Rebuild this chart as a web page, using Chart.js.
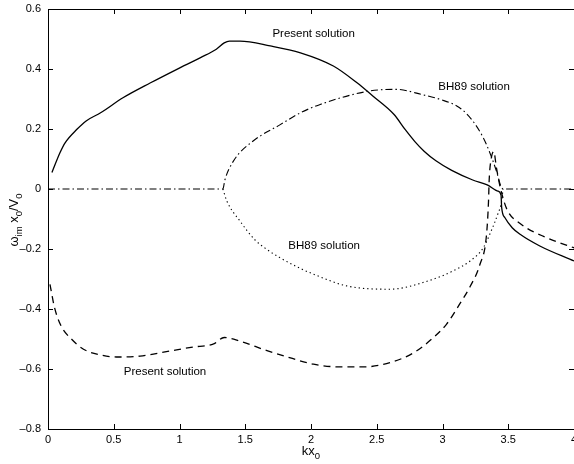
<!DOCTYPE html>
<html>
<head>
<meta charset="utf-8">
<script src="https://cdn.jsdelivr.net/npm/chart.js@4/dist/chart.umd.min.js"></script>
<style>
  html, body { margin: 0; padding: 0; background: #fff; }
  #wrap { width: 574px; height: 464px; }
</style>
</head>
<body>
<div id="wrap"><canvas id="growthChart" width="574" height="464"></canvas></div>
<script>
// values
const presentUpperX = [0.03, 0.09, 0.13, 0.22, 0.29, 0.4, 0.57, 0.78, 0.98, 1.16, 1.28, 1.34, 1.38, 1.46, 1.69, 1.92, 2.17, 2.35, 2.47, 2.63, 2.72, 2.79, 2.86, 2.95, 3.07, 3.23, 3.34, 3.42, 3.445, 3.45, 3.475, 3.53, 3.59, 3.74, 4.0];
const presentUpperY = [0.055, 0.12, 0.154, 0.199, 0.227, 0.254, 0.304, 0.354, 0.399, 0.438, 0.466, 0.487, 0.493, 0.493, 0.477, 0.454, 0.41, 0.354, 0.31, 0.249, 0.196, 0.158, 0.126, 0.094, 0.062, 0.03, 0.014, -0.007, -0.02, -0.062, -0.096, -0.129, -0.151, -0.19, -0.24];

const presentLowerX = [0.015, 0.05, 0.1, 0.18, 0.27, 0.4, 0.52, 0.7, 0.9, 1.1, 1.26, 1.34, 1.46, 1.66, 1.8, 2.02, 2.22, 2.4, 2.6, 2.78, 2.9, 3.03, 3.13, 3.21, 3.285, 3.335, 3.35, 3.355, 3.37, 3.39, 3.41, 3.44, 3.49, 3.59, 3.79, 4.0];
const presentLowerY = [-0.318, -0.396, -0.457, -0.501, -0.534, -0.553, -0.56, -0.557, -0.542, -0.527, -0.516, -0.495, -0.507, -0.538, -0.557, -0.584, -0.593, -0.593, -0.579, -0.546, -0.507, -0.451, -0.384, -0.325, -0.251, -0.151, -0.04, 0.03, 0.1, 0.125, 0.071, 0.004, -0.068, -0.115, -0.162, -0.196];

const bh89UpperX = [0, 1.33, 1.345, 1.41, 1.56, 1.76, 1.92, 2.07, 2.45, 2.65, 2.85, 2.98, 3.13, 3.23, 3.31, 3.36, 3.41, 3.45, 3.47, 4.0];
const bh89UpperY = [0, 0, 0.03, 0.093, 0.16, 0.213, 0.254, 0.282, 0.327, 0.332, 0.314, 0.299, 0.271, 0.227, 0.171, 0.121, 0.06, 0.004, 0, 0];

const bh89LowerX = [1.33, 1.36, 1.46, 1.57, 1.66, 1.76, 1.92, 2.02, 2.27, 2.6, 2.9, 3.08, 3.21, 3.31, 3.37, 3.42, 3.45, 3.46];
const bh89LowerY = [0, -0.04, -0.107, -0.168, -0.2, -0.228, -0.265, -0.284, -0.323, -0.334, -0.305, -0.273, -0.24, -0.196, -0.14, -0.084, -0.04, 0];

const xTicks = [0, 0.5, 1, 1.5, 2, 2.5, 3, 3.5, 4];
const yTicks = [-0.8, -0.6, -0.4, -0.2, 0, 0.2, 0.4, 0.6];

const curveLabels = [
    { text: 'Present solution', x: 2.02, y: 0.518 },
    { text: 'BH89 solution', x: 3.24, y: 0.342 },
    { text: 'BH89 solution', x: 2.1, y: -0.19 },
    { text: 'Present solution', x: 0.89, y: -0.61 }
];

function toPoints(xs, ys) {
    return xs.map((x, i) => ({ x: x, y: ys[i] }));
}

function fmtTick(v) {
    const s = String(Math.round(v * 10) / 10);
    return s.replace('-', '\u2013');
}

const FONT = '"Liberation Sans", Arial, Helvetica, sans-serif';

// inward ticks, frame, curve labels and axis titles (with subscripts)
const framePlugin = {
    id: 'framePlugin',
    afterDraw(chart) {
        const ctx = chart.ctx;
        const a = chart.chartArea;
        const xs = chart.scales.x;
        const ys = chart.scales.y;
        ctx.save();
        ctx.strokeStyle = '#000';
        ctx.lineWidth = 1;
        ctx.setLineDash([]);
        ctx.beginPath();
        ctx.moveTo(a.left + 0.5, a.top + 0.5);
        ctx.lineTo(a.right + 0.5, a.top + 0.5);
        ctx.moveTo(a.left + 0.5, a.top);
        ctx.lineTo(a.left + 0.5, a.bottom + 0.5);
        ctx.lineTo(a.right + 0.5, a.bottom + 0.5);
        const tl = 5;
        xTicks.forEach(t => {
            const px = Math.round(xs.getPixelForValue(t)) + 0.5;
            ctx.moveTo(px, a.bottom);
            ctx.lineTo(px, a.bottom - tl);
            ctx.moveTo(px, a.top);
            ctx.lineTo(px, a.top + tl);
        });
        yTicks.forEach(t => {
            const py = Math.round(ys.getPixelForValue(t)) + 0.5;
            ctx.moveTo(a.left, py);
            ctx.lineTo(a.left + tl, py);
            ctx.moveTo(a.right, py);
            ctx.lineTo(a.right - tl, py);
        });
        ctx.stroke();

        ctx.fillStyle = '#000';
        ctx.font = '11.5px ' + FONT;
        ctx.textAlign = 'center';
        ctx.textBaseline = 'middle';
        curveLabels.forEach(l => {
            ctx.fillText(l.text, xs.getPixelForValue(l.x), ys.getPixelForValue(l.y));
        });

        // x title: kx0
        drawSubText(ctx, [{ t: 'kx' }, { t: '0', sub: true }], 311, 455);

        // y title: omega_im x0/V0, rotated
        ctx.save();
        ctx.translate(18, 220);
        ctx.rotate(-Math.PI / 2);
        drawSubText(ctx, [
            { t: '\u03c9' }, { t: 'im', sub: true }, { t: ' x' }, { t: '0', sub: true },
            { t: '/V' }, { t: '0', sub: true }
        ], 0, 0);
        ctx.restore();
        ctx.restore();
    }
};

function drawSubText(ctx, parts, cx, baseY) {
    const mainFont = '13px ' + FONT;
    const subFont = '9.5px ' + FONT;
    let total = 0;
    parts.forEach(p => {
        ctx.font = p.sub ? subFont : mainFont;
        p.w = ctx.measureText(p.t).width;
        total += p.w;
    });
    let x = cx - total / 2;
    ctx.textAlign = 'left';
    ctx.textBaseline = 'alphabetic';
    parts.forEach(p => {
        ctx.font = p.sub ? subFont : mainFont;
        ctx.fillText(p.t, x, p.sub ? baseY + 4 : baseY);
        x += p.w;
    });
}

function lineSet(xs, ys, dash, width) {
    return {
        data: toPoints(xs, ys),
        showLine: true,
        borderColor: '#000',
        backgroundColor: '#000',
        borderWidth: width,
        borderDash: dash,
        pointRadius: 0,
        fill: false,
        cubicInterpolationMode: 'monotone'
    };
}

function createGrowthChart() {
    const ctx = document.getElementById('growthChart');
    if (!ctx) return;

    new Chart(ctx, {
        type: 'scatter',
        data: {
            datasets: [
                lineSet(presentUpperX, presentUpperY, [], 1.3),
                lineSet(presentLowerX, presentLowerY, [7, 5], 1.3),
                lineSet(bh89UpperX, bh89UpperY, [7, 3, 1.5, 3], 1.1),
                lineSet(bh89LowerX, bh89LowerY, [1.3, 3], 1.1)
            ]
        },
        options: {
            responsive: false,
            animation: false,
            devicePixelRatio: 1,
            layout: { padding: { top: 9, right: 0, left: 0, bottom: 0 } },
            plugins: { legend: { display: false }, tooltip: { enabled: false }, title: { display: false } },
            scales: {
                x: {
                    type: 'linear',
                    min: 0,
                    max: 4,
                    afterBuildTicks: s => { s.ticks = xTicks.map(v => ({ value: v })); },
                    afterFit: s => { s.height = 35; s.paddingLeft = 0; s.paddingRight = 0; },
                    grid: { display: false, drawTicks: false },
                    border: { display: false },
                    ticks: {
                        color: '#000',
                        padding: 4,
                        maxRotation: 0,
                        font: { family: FONT, size: 11 },
                        callback: v => fmtTick(v)
                    }
                },
                y: {
                    type: 'linear',
                    min: -0.8,
                    max: 0.6,
                    afterBuildTicks: s => { s.ticks = yTicks.map(v => ({ value: v })); },
                    afterFit: s => { s.width = 48; s.paddingTop = 0; s.paddingBottom = 0; },
                    grid: { display: false, drawTicks: false },
                    border: { display: false },
                    ticks: {
                        color: '#000',
                        padding: 7,
                        font: { family: FONT, size: 11 },
                        callback: v => fmtTick(v)
                    }
                }
            }
        },
        plugins: [framePlugin]
    });
}

document.addEventListener('DOMContentLoaded', () => {
    createGrowthChart();
});
</script>
</body>
</html>
